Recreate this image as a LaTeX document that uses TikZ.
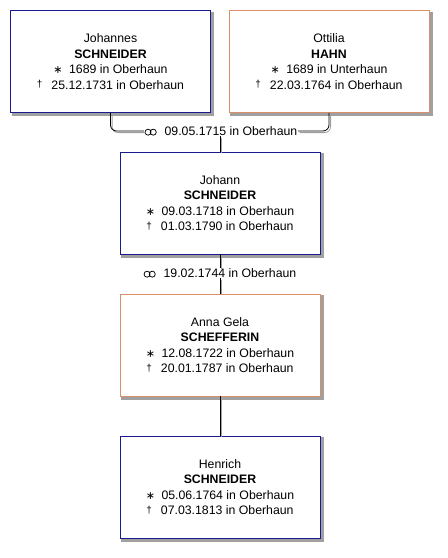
\documentclass[tikz,border=0pt]{standalone}
\usepackage{fontspec}
\setmainfont{Liberation Sans}
\newfontfamily\symfont{DejaVu Sans}
\definecolor{malebox}{RGB}{26,26,140}
\definecolor{femalebox}{RGB}{217,144,106}
\definecolor{shadowgray}{RGB}{160,160,160}
\usetikzlibrary{positioning,backgrounds}
\newcommand{\born}{{\symfont\fontsize{11}{11}\selectfont\char"2217}\hspace{6.5pt}}
\newcommand{\died}{{\fontsize{10}{10}\selectfont\raisebox{1.5pt}{†}}\hspace{9pt}}
\newcommand{\wed}{\tikz[baseline=-3.2pt,x=1pt,y=1pt]{\draw[line width=0.75pt] (0,0) circle (3pt) (5.2,0) circle (3pt);}\hspace{8pt}}

\begin{document}
\begin{tikzpicture}[x=1pt,y=-1pt,
  person/.style={draw,fill=white,line width=0.9pt,minimum width=200pt,minimum height=102pt,
    inner sep=0pt,align=center,font=\fontsize{12.3}{15.5}\selectfont},
  male/.style={person,draw=malebox},
  female/.style={person,draw=femalebox},
  wedding/.style={inner sep=0.5pt,font=\fontsize{12.3}{15.5}\selectfont},
  link/.style={draw=black,line width=0.8pt,rounded corners=6pt,
    preaction={draw=shadowgray,line width=0.8pt,transform canvas={shift={(1.6pt,-1.6pt)}}}}]
  \useasboundingbox (0,0) rectangle (448,558);
  % parents
  \node[male] (johannes) at (110.5,61.5) {Johannes\\\textbf{SCHNEIDER}\\\born 1689 in Oberhaun\\\died 25.12.1731 in Oberhaun};
  \node[female] (ottilia) at (329,61.5) {Ottilia\\\textbf{HAHN}\\\born 1689 in Unterhaun\\\died 22.03.1764 in Oberhaun};
  \node[wedding] (wed1) at (221,131) {\wed 09.05.1715 in Oberhaun};
  % descendants
  \node[male] (johann) at (220,203) {Johann\\\textbf{SCHNEIDER}\\\born 09.03.1718 in Oberhaun\\\died 01.03.1790 in Oberhaun};
  \node[wedding] (wed2) at (220,273) {\wed 19.02.1744 in Oberhaun};
  \node[female] (anna) at (220,345) {Anna Gela\\\textbf{SCHEFFERIN}\\\born 12.08.1722 in Oberhaun\\\died 20.01.1787 in Oberhaun};
  \node[male] (henrich) at (220,487) {Henrich\\\textbf{SCHNEIDER}\\\born 05.06.1764 in Oberhaun\\\died 07.03.1813 in Oberhaun};
  % shadows
  \begin{scope}[on background layer]
    \foreach \p in {johannes,ottilia,johann,anna,henrich}{
      \draw[shadowgray,line width=3pt] ([shift={(2,1.5)}]\p.north east) -- ([shift={(2,2)}]\p.south east)
        -- ([shift={(1.5,2)}]\p.south west);
    }
  \end{scope}
  % connectors
  \draw[link] (johannes.south) |- (wed1.west);
  \draw[link] (ottilia.south) |- (wed1.east);
  \draw[link] (wed1.south -| johann.north) -- (johann.north);
  \draw[link] (johann.south) -- (wed2.north -| johann.south);
  \draw[link] (wed2.south -| anna.north) -- (anna.north);
  \draw[link] (anna.south) -- (henrich.north);
\end{tikzpicture}
\end{document}
